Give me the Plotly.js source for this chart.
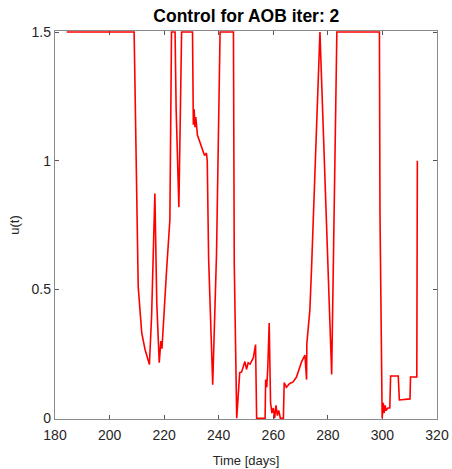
<!DOCTYPE html>
<html>
<head>
<meta charset="utf-8">
<script src="https://cdn.plot.ly/plotly-3.0.1.min.js"></script>
<style>html,body{margin:0;padding:0;background:#fff;}#chart{width:452px;height:469px;}</style>
</head>
<body>
<div id="chart"></div>
<script>
const timeDays = [184.3, 209.0, 210.5, 211.8, 213.0, 214.6, 215.4, 216.6, 217.3, 218.2, 218.8, 219.2, 220.9, 222.1, 222.7, 224.0, 224.4, 225.4, 226.4, 230.4, 230.7, 231.0, 231.3, 231.6, 232.2, 233.7, 234.8, 235.5, 235.8, 236.3, 237.8, 239.2, 240.5, 245.4, 245.7, 246.6, 247.2, 247.7, 248.4, 249.0, 249.6, 250.2, 250.8, 251.5, 252.7, 253.5, 253.9, 257.0, 257.2, 257.6, 258.0, 258.5, 259.0, 259.5, 260.0, 260.5, 261.0, 261.5, 262.0, 262.6, 263.7, 264.0, 264.8, 266.0, 267.2, 268.5, 270.4, 271.6, 272.2, 272.3, 273.4, 274.0, 275.9, 277.1, 281.4, 283.3, 298.9, 299.1, 299.9, 300.3, 300.6, 301.0, 301.3, 302.0, 302.7, 303.0, 305.8, 306.2, 310.1, 310.3, 312.6, 312.8];
const control = [1.5, 1.5, 0.51, 0.33, 0.267, 0.209, 0.395, 0.873, 0.448, 0.216, 0.3, 0.27, 0.576, 0.77, 1.5, 1.5, 1.2, 0.82, 1.5, 1.5, 1.14, 1.2, 1.13, 1.17, 1.1, 1.053, 1.02, 1.03, 1.0, 0.62, 0.13, 0.64, 1.5, 1.5, 0.6, 0.0, 0.125, 0.177, 0.18, 0.2, 0.22, 0.19, 0.215, 0.21, 0.235, 0.286, 0.0, 0.0, 0.15, 0.12, 0.2, 0.37, 0.06, 0.02, 0.04, 0.0, 0.05, 0.01, 0.03, 0.0, 0.0, 0.138, 0.12, 0.135, 0.14, 0.16, 0.22, 0.245, 0.15, 0.29, 0.42, 0.576, 1.156, 1.5, 0.17, 1.5, 1.5, 0.8, 0.0, 0.06, 0.02, 0.05, 0.03, 0.04, 0.04, 0.164, 0.164, 0.071, 0.075, 0.16, 0.16, 1.0];
const xTicks = [180, 200, 220, 240, 260, 280, 300, 320];
const yTicks = [0, 0.5, 1, 1.5];
const yTickText = ['0', '0.5', '1', '1.5'];

const FONT = 'Liberation Sans, Arial, sans-serif';
const trace = {
  x: timeDays, y: control, type: 'scatter', mode: 'lines',
  line: {color: '#ff0000', width: 1.6}, hoverinfo: 'skip'
};
const axisBase = {
  showline: true, mirror: 'ticks', linecolor: '#8a8a8a', linewidth: 1.2,
  ticks: 'inside', ticklen: 4, tickcolor: '#555', tickwidth: 1,
  showgrid: false, zeroline: false, layer: 'below traces',
  tickfont: {family: FONT, size: 14, color: '#262626'}
};
const layout = {
  width: 452, height: 469,
  margin: {l: 55, r: 15, t: 31, b: 50},
  paper_bgcolor: '#fff', plot_bgcolor: '#fff',
  showlegend: false,
  title: {text: '<b>Control for AOB iter: 2</b>', x: 0.545, xanchor: 'center', y: 0.966, yanchor: 'middle',
          font: {family: FONT, size: 17.5, color: '#000'}},
  xaxis: Object.assign({}, axisBase, {range: [180, 320], tickvals: xTicks, ticktext: xTicks.map(String),
          ticklabelstandoff: 3,
          title: {text: 'Time [days]', standoff: 13, font: {family: FONT, size: 13, color: '#262626'}}}),
  yaxis: Object.assign({}, axisBase, {range: [-0.003, 1.504], tickvals: yTicks, ticktext: yTickText,
          title: {text: 'u(t)', standoff: 9, font: {family: FONT, size: 13, color: '#262626'}}})
};
Plotly.newPlot('chart', [trace], layout, {displayModeBar: false, staticPlot: true});
</script>
</body>
</html>
